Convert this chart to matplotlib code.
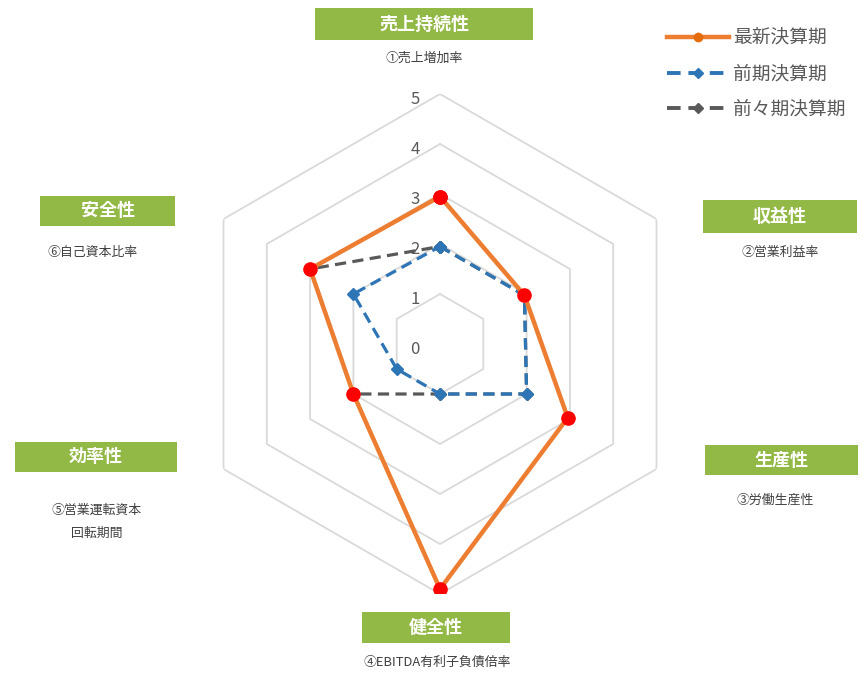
import numpy as np
import matplotlib
matplotlib.use('Agg')
import matplotlib.pyplot as plt
from matplotlib.lines import Line2D
from matplotlib.patches import Rectangle

plt.rcParams['font.family'] = ['Noto Sans CJK JP', 'DejaVu Sans']

# ---- data ----
categories = ['売上持続性', '収益性', '生産性', '健全性', '効率性', '安全性']
indicators = ['①売上増加率', '②営業利益率', '③労働生産性',
              '④EBITDA有利子負債倍率', '⑤営業運転資本\n回転期間', '⑥自己資本比率']
series_names = ['最新決算期', '前期決算期', '前々期決算期']
latest = [2.95, 1.95, 2.95, 4.9, 2.0, 3.0]
previous = [1.95, 1.95, 2.0, 1.0, 1.0, 2.0]
before_previous = [1.95, 1.95, 2.0, 1.0, 2.0, 3.0]
r_ticks = [0, 1, 2, 3, 4, 5]

# ---- figure ----
W, H = 864, 693
fig = plt.figure(figsize=(W / 100, H / 100), dpi=100)
cx, cy, R = 440, 344, 250
ax = fig.add_axes([(cx - R) / W, 1 - (cy + R) / H, 2 * R / W, 2 * R / H],
                  projection='polar')
ax.set_theta_zero_location('N')
ax.set_theta_direction(-1)
ax.set_ylim(0, 5)
ax.grid(False)
ax.spines['polar'].set_visible(False)
ax.set_xticks([])
ax.set_yticks([])
ax.patch.set_alpha(0)

n = len(categories)
angles = np.arange(n) * 2 * np.pi / n
closed = np.append(angles, angles[0])

def close(v):
    return list(v) + [v[0]]

# hexagonal grid
for r in r_ticks[1:]:
    ax.plot(closed, [r] * (n + 1), color='#D9D9D9', lw=1.3, zorder=1)

# radial tick labels
for t in r_ticks:
    ax.annotate(str(t), xy=(0, t), xytext=(-25, -5), textcoords='offset pixels',
                ha='center', va='center', fontsize=12, color='#595959', zorder=2)

# series
dash = (0, (3.5, 2.0))
ax.plot(closed, close(before_previous), color='#595959', lw=2.3, ls=dash,
        marker='D', ms=6, zorder=3)
ax.plot(closed, close(previous), color='#2E75B6', lw=2.3, ls=dash,
        marker='D', ms=6, zorder=4)
ax.plot(closed, close(latest), color='#ED7D31', lw=3.2, marker='o', ms=9.5,
        mfc='#FF0000', mec='#FF0000', zorder=5)

# category boxes + indicator labels
boxes = [(315, 8, 533, 40), (703, 200, 857, 233), (705, 445, 858, 475),
         (362, 612, 510, 643), (15, 442, 177, 472), (40, 196, 175, 226)]
sub_pos = [(424, 58), (780, 252), (775, 500), (437, 662), (97, 522), (93, 252)]
green = '#92B846'
for cat, ind, (x0, y0, x1, y1), (sx, sy) in zip(categories, indicators, boxes, sub_pos):
    fig.patches.append(Rectangle((x0 / W, 1 - y1 / H), (x1 - x0) / W, (y1 - y0) / H,
                                 transform=fig.transFigure, facecolor=green,
                                 edgecolor='none'))
    fig.text((x0 + x1) / 2 / W, 1 - (y0 + y1) / 2 / H, cat, ha='center', va='center',
             color='white', fontsize=13, fontweight='bold')
    fig.text(sx / W, 1 - sy / H, ind, ha='center', va='center', color='#404040',
             fontsize=9.3, linespacing=1.95)

# legend
handles = [
    Line2D([], [], color='#ED7D31', lw=3.2, marker='o', ms=6, mfc='#E46C0A', mec='#E46C0A'),
    Line2D([], [], color='#2E75B6', lw=2.8, ls=dash, marker='D', ms=5),
    Line2D([], [], color='#595959', lw=2.8, ls=dash, marker='D', ms=5),
]
leg = fig.legend(handles, series_names, loc='upper left',
                 bbox_to_anchor=(667 / W, 1 - 28 / H), frameon=False,
                 fontsize=13.5, handlelength=3.3, labelspacing=0.75,
                 handletextpad=0.22, borderpad=0, borderaxespad=0)
for t in leg.get_texts():
    t.set_color('#595959')

fig.savefig('out.png', dpi=100, facecolor='white')
